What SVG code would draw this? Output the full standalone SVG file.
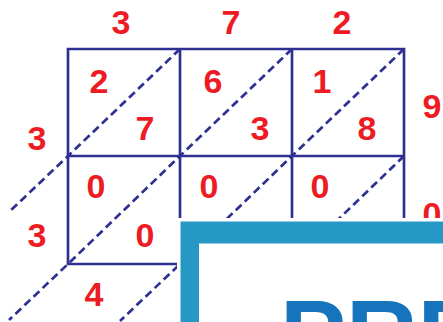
<svg xmlns="http://www.w3.org/2000/svg" width="443" height="322" viewBox="0 0 443 322">
<style>
.g{stroke:#2E3192;stroke-width:2.7;fill:none;stroke-linecap:square}
.d{stroke:#2E3192;stroke-width:2.7;fill:none;stroke-dasharray:8 4.5}
.n{font-family:"Liberation Sans",Arial,sans-serif;font-weight:bold;font-size:34px;fill:#ED1C24;text-anchor:middle}
.w{font-family:"Liberation Sans",Arial,sans-serif;font-weight:bold;font-size:99px;fill:#1574BC}
</style>
<rect width="443" height="322" fill="#fff"/>
<g id="connectors">
<path class="g" d="M68,49H404M68,156H404M68,264H177M68,49V264M180,49V218M292,49V218M404,49V218"/>
<path class="d" d="M180,49L68,156L9,212"/>
<path class="d" d="M292,49L180,156L68,264L9,320"/>
<path class="d" d="M404,49L292,156L180,264L120,321"/>
<path class="d" d="M404,156L292,264"/>
</g>
<g id="top-labels">
<text class="n" x="121" y="34">3</text>
<text class="n" x="231" y="34">7</text>
<text class="n" x="342" y="34">2</text>
</g>
<g id="cell-1-1"><text class="n" x="99" y="93">2</text><text class="n" x="145" y="140">7</text></g>
<g id="cell-1-2"><text class="n" x="213" y="93">6</text><text class="n" x="260" y="140">3</text></g>
<g id="cell-1-3"><text class="n" x="322" y="93">1</text><text class="n" x="367" y="140">8</text></g>
<g id="cell-2-1"><text class="n" x="96" y="198">0</text><text class="n" x="145" y="247">0</text></g>
<g id="cell-2-2"><text class="n" x="209" y="198">0</text></g>
<g id="cell-2-3"><text class="n" x="320" y="198">0</text></g>
<g id="side-labels">
<text class="n" x="432" y="118">9</text>
<text class="n" x="432" y="226">0</text>
<text class="n" x="37" y="150">3</text>
<text class="n" x="37" y="247">3</text>
<text class="n" x="94" y="306">4</text>
</g>
<g id="watermark">
<rect x="177" y="218" width="270" height="110" fill="#fff"/>
<rect x="180.5" y="221.5" width="270" height="110" fill="#2698C6"/>
<rect x="199" y="243.5" width="250" height="90" fill="#fff"/>
<text class="w" x="280" y="369">PREVIEW</text>
</g>
</svg>
